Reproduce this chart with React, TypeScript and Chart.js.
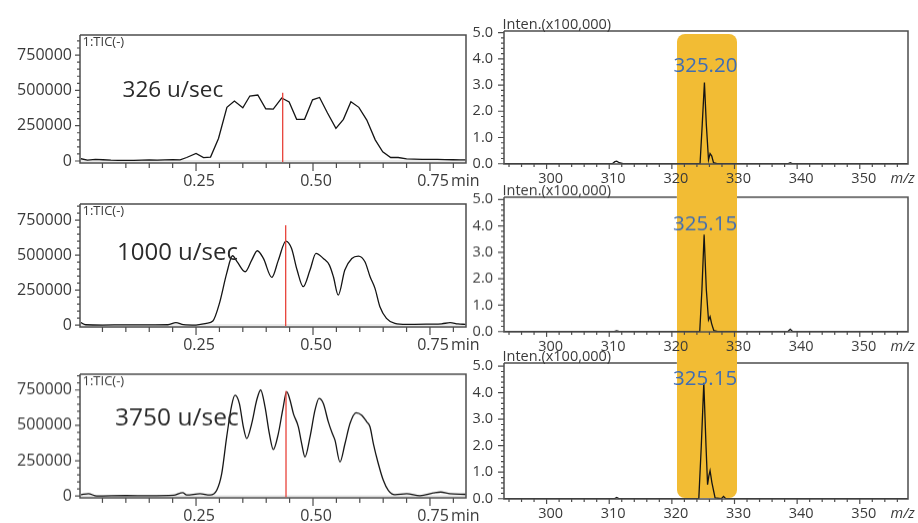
import React, { useEffect, useRef } from 'react';
import { Chart, registerables } from 'chart.js';

Chart.register(...registerables);

const FONT = '"Open Sans", "Noto Sans", "DejaVu Sans", sans-serif';
const TEXT = '#3a3a3a';
const AXIS = '#4d4d4d';
const LINE = '#151515';
const BAND = '#F2BC34';
const PEAK_BLUE = '#3F6DB4';
const MARKER_RED = '#E8433A';

// ---------------- chromatogram (TIC) data ----------------
const traceName = '1:TIC(-)';
const scanRates = ['326 u/sec', '1000 u/sec', '3750 u/sec'];
const rateLabelTime = [0.093, 0.081, 0.077];
const rateLabelLevel = [455000, 464000, 500000];
const rateLabelSize = [22.5, 24, 24.5];

const timeMajor = [0.25, 0.5, 0.75];
const timeLabels = ['0.25', '0.50', '0.75'];
const timeMinor = [0.05, 0.1, 0.15, 0.2, 0.3, 0.35, 0.4, 0.45, 0.55, 0.6, 0.65, 0.7, 0.8];
const timeUnit = 'min';
const ticMajor = [0, 250000, 500000, 750000];
const ticLabels = ['0', '250000', '500000', '750000'];
const ticMinor = [50000, 100000, 150000, 200000, 300000, 350000, 400000, 450000, 550000, 600000, 650000, 700000, 800000, 850000];
const timeRange = [0.002, 0.827];
const ticMax = [892000, 865000, 862000];
const ticMin = [-14000, -14000, -13000];

const ticTimeA = [0.004, 0.018, 0.035, 0.051, 0.068, 0.084, 0.101, 0.117, 0.134, 0.150, 0.167, 0.183, 0.200, 0.216, 0.230, 0.250, 0.266, 0.281, 0.298, 0.316, 0.332, 0.350, 0.365, 0.382, 0.399, 0.415, 0.433, 0.449, 0.465, 0.482, 0.499, 0.514, 0.531, 0.549, 0.565, 0.581, 0.598, 0.615, 0.633, 0.649, 0.666, 0.682, 0.700, 0.716, 0.733, 0.749, 0.766, 0.782, 0.799, 0.815, 0.826];
const ticValA = [16000, 7000, 11000, 9000, 6000, 5000, 5000, 5000, 6000, 8000, 7000, 8000, 10000, 8000, 25000, 54000, 24000, 28000, 160000, 380000, 425000, 377000, 460000, 467000, 370000, 368000, 446000, 418000, 295000, 295000, 433000, 450000, 340000, 231000, 295000, 420000, 380000, 290000, 150000, 65000, 25000, 25000, 15000, 13000, 12000, 12000, 11000, 10000, 9000, 8000, 8000];

const ticTimeB = [0.004, 0.014, 0.05, 0.1, 0.15, 0.19, 0.207, 0.223, 0.25, 0.272, 0.286, 0.3, 0.3155, 0.328, 0.338, 0.355, 0.369, 0.381, 0.394, 0.412, 0.426, 0.442, 0.454, 0.466, 0.479, 0.4936, 0.5064, 0.522, 0.535, 0.5436, 0.554, 0.568, 0.583, 0.597, 0.611, 0.622, 0.6325, 0.643, 0.657, 0.675, 0.7, 0.75, 0.775, 0.793, 0.81, 0.826];
const ticValB = [17000, 2000, 0, 1000, 1000, 2000, 17000, 3000, 0, 12000, 29000, 155000, 369000, 495000, 452000, 381000, 464000, 531000, 476000, 340000, 464000, 600000, 548000, 393000, 274000, 393000, 512000, 476000, 428000, 345000, 214000, 393000, 476000, 493000, 452000, 345000, 262000, 131000, 48000, 12000, 5000, 7000, 9000, 17000, 8000, 5000];

const ticTimeC = [0.0043, 0.0199, 0.0378, 0.1, 0.15, 0.2015, 0.2216, 0.2301, 0.2585, 0.2799, 0.2942, 0.3049, 0.3155, 0.3262, 0.3333, 0.3426, 0.3511, 0.3583, 0.369, 0.3797, 0.3882, 0.3974, 0.4067, 0.4152, 0.4259, 0.4352, 0.4437, 0.4509, 0.458, 0.4687, 0.4758, 0.4829, 0.4936, 0.5043, 0.5128, 0.522, 0.5327, 0.5413, 0.547, 0.5577, 0.5684, 0.5791, 0.5919, 0.604, 0.6147, 0.6218, 0.629, 0.6396, 0.6503, 0.661, 0.6752, 0.7002, 0.7286, 0.7571, 0.7728, 0.7927, 0.8263];
const ticValC = [9500, 16500, 0, 3000, 2000, 5000, 24000, 7000, 16500, 7000, 40000, 158000, 418000, 643000, 714000, 655000, 490000, 407000, 513000, 679000, 750000, 631000, 442000, 329000, 442000, 608000, 738000, 679000, 584000, 490000, 371000, 277000, 418000, 608000, 690000, 655000, 525000, 442000, 395000, 241000, 371000, 513000, 589000, 572000, 525000, 490000, 371000, 229000, 111000, 40000, 9500, 16500, 2400, 21000, 28000, 16500, 12000];

const markerTime = [0.4352, 0.4416, 0.4423];
const markerTop = [484000, 714000, 742000];

// ---------------- mass spectrum data ----------------
const intenTitle = 'Inten.(x100,000)';
const mzUnit = 'm/z';
const mzMajor = [300, 310, 320, 330, 340, 350];
const mzLabels = ['300', '310', '320', '330', '340', '350'];
const mzMinor = [294, 296, 298, 302, 304, 306, 308, 312, 314, 316, 318, 322, 324, 326, 328, 332, 334, 336, 338, 342, 344, 346, 348, 352, 354, 356];
const intenMajor = [0, 1, 2, 3, 4, 5];
const intenLabels = ['0.0', '1.0', '2.0', '3.0', '4.0', '5.0'];
const intenMinor = [0.2, 0.4, 0.6, 0.8, 1.2, 1.4, 1.6, 1.8, 2.2, 2.4, 2.6, 2.8, 3.2, 3.4, 3.6, 3.8, 4.2, 4.4, 4.6, 4.8];
const mzRange = [293.2, 357.7];
const intenMax = [5.06, 5.09, 5.12];

const specMzA = [293.2, 310.5, 310.9, 311.2, 311.6, 312.2, 324.5, 324.85, 325.2, 325.5, 325.85, 326.1, 326.37, 326.65, 327.2, 338.5, 338.9, 339.3, 357.7];
const specIntA = [0, 0, 0.08, 0.1, 0.04, 0, 0, 1.5, 3.1, 1.5, 0.15, 0.39, 0.29, 0.04, 0, 0, 0.04, 0, 0];
const specMzB = [293.2, 310.8, 311.2, 311.6, 324.45, 324.8, 325.15, 325.5, 325.85, 326.1, 326.35, 326.7, 327.3, 338.5, 338.9, 339.3, 357.7];
const specIntB = [0, 0, 0.03, 0, 0, 1.6, 3.67, 1.6, 0.44, 0.57, 0.3, 0.04, 0, 0, 0.09, 0, 0];
const specMzC = [293.2, 310.8, 311.2, 311.6, 324.3, 324.7, 325.1, 325.45, 325.7, 325.9, 326.1, 326.4, 326.9, 327.9, 328.25, 328.6, 357.7];
const specIntC = [0, 0, 0.05, 0, 0, 2.0, 4.37, 2.0, 0.53, 0.85, 1.06, 0.6, 0.03, 0, 0.09, 0, 0];

const peakLabels = ['325.20', '325.15', '325.15'];
const peakMz = [325.2, 325.15, 325.15];
const peakLabelLevel = [3.5, 3.84, 4.28];

const bandMz = [320.8, 330.4];
const bandTopLevel = 4.96; // on first spectrum
const bandBottomLevel = 0.02; // on last spectrum

// ---------------- layout (pixels) ----------------
const PAD_TOP = 30;
const AXIS_H = 30;
type Panel = { cl: number; ct: number; w: number; pl: number; pt: number; pr: number; pb: number };
const leftPanels: Panel[] = [
  { cl: 0, ct: 5, w: 490, pl: 80, pt: 35, pr: 466, pb: 163 },
  { cl: 0, ct: 174, w: 490, pl: 80, pt: 204, pr: 466, pb: 327 },
  { cl: 0, ct: 344, w: 490, pl: 80, pt: 374, pr: 466, pb: 497.5 },
];
const rightPanels: Panel[] = [
  { cl: 460, ct: 1, w: 458, pl: 504, pt: 31, pr: 908, pb: 164.3 },
  { cl: 460, ct: 167, w: 458, pl: 504, pt: 197, pr: 908, pb: 331.7 },
  { cl: 460, ct: 333, w: 458, pl: 504, pt: 363, pr: 908, pb: 499 },
];
const panelH = (p: Panel) => p.pb - p.pt + PAD_TOP + AXIS_H;

type Deco = {
  xMajor: number[]; xMinor: number[]; yMajor: number[]; yMinor: number[];
  xMaj: number; xMin: number; yMaj: number; yMin: number;
  topGap?: number[]; zeroLine?: boolean;
  extra?: (chart: any) => void;
};

function decoPlugin(cfg: Deco) {
  return {
    id: 'panelDeco',
    beforeDatasetsDraw(chart: any) {
      if (!cfg.zeroLine) return;
      const { ctx, chartArea: a, scales } = chart;
      const y0 = scales.y.getPixelForValue(0);
      ctx.save();
      ctx.strokeStyle = '#d2d2d2';
      ctx.lineWidth = 1;
      ctx.beginPath();
      ctx.moveTo(a.left, y0);
      ctx.lineTo(a.right, y0);
      ctx.stroke();
      ctx.restore();
    },
    afterDatasetsDraw(chart: any) {
      const { ctx, chartArea: a, scales } = chart;
      const x = scales.x;
      const y = scales.y;
      ctx.save();
      ctx.strokeStyle = AXIS;
      ctx.lineWidth = 1.5;
      ctx.beginPath();
      ctx.moveTo(a.left, a.top);
      ctx.lineTo(a.left, a.bottom);
      ctx.lineTo(a.right, a.bottom);
      ctx.lineTo(a.right, a.top);
      if (cfg.topGap) {
        const g0 = x.getPixelForValue(cfg.topGap[0]);
        const g1 = x.getPixelForValue(cfg.topGap[1]);
        ctx.lineTo(g1, a.top);
        ctx.moveTo(g0, a.top);
        ctx.lineTo(a.left, a.top);
      } else {
        ctx.lineTo(a.left, a.top);
      }
      ctx.stroke();
      ctx.lineWidth = 1.2;
      ctx.beginPath();
      const xt = (vals: number[], len: number) => vals.forEach((v) => {
        const p = x.getPixelForValue(v);
        ctx.moveTo(p, a.bottom);
        ctx.lineTo(p, a.bottom + len);
      });
      const yt = (vals: number[], len: number) => vals.forEach((v) => {
        const p = y.getPixelForValue(v);
        ctx.moveTo(a.left, p);
        ctx.lineTo(a.left - len, p);
      });
      xt(cfg.xMajor, cfg.xMaj);
      xt(cfg.xMinor, cfg.xMin);
      yt(cfg.yMajor, cfg.yMaj);
      yt(cfg.yMinor, cfg.yMin);
      ctx.stroke();
      if (cfg.extra) cfg.extra(chart);
      ctx.restore();
    },
  };
}

function axisOpts(major: number[], minor: number[], labels: string[], size: number, extra: any) {
  const all = [...major, ...minor].sort((a, b) => a - b);
  return {
    type: 'linear',
    grid: { display: false, drawTicks: false },
    border: { display: false },
    afterBuildTicks: (s: any) => { s.ticks = all.map((v) => ({ value: v })); },
    ticks: {
      autoSkip: false,
      maxRotation: 0,
      minRotation: 0,
      color: TEXT,
      font: { family: FONT, size },
      callback: (v: number) => {
        const i = major.indexOf(v);
        return i >= 0 ? labels[i] : '';
      },
      ...extra.ticks,
    },
    ...extra.rest,
  };
}

function makeChart(canvas: HTMLCanvasElement, p: Panel, xs: number[], ys: number[], smooth: boolean,
  xCfg: any, yCfg: any, deco: Deco) {
  return new Chart(canvas, {
    type: 'line',
    data: {
      datasets: [{
        data: xs.map((v, i) => ({ x: v, y: ys[i] })),
        borderColor: LINE,
        borderWidth: 1.3,
        pointRadius: 0,
        fill: false,
        tension: smooth ? 0.4 : 0,
        cubicInterpolationMode: smooth ? 'monotone' : 'default',
      }],
    },
    options: {
      responsive: false,
      animation: false,
      events: [],
      layout: { padding: { top: PAD_TOP, right: p.cl + p.w - p.pr, left: 0, bottom: 0 } },
      plugins: { legend: { display: false }, tooltip: { enabled: false } },
      scales: {
        x: { ...xCfg, afterFit: (s: any) => { s.height = AXIS_H; } },
        y: { ...yCfg, afterFit: (s: any) => { s.width = p.pl - p.cl; } },
      },
    } as any,
    plugins: [decoPlugin(deco) as any],
  });
}

export default function App() {
  const lRefs = [useRef<HTMLCanvasElement>(null), useRef<HTMLCanvasElement>(null), useRef<HTMLCanvasElement>(null)];
  const rRefs = [useRef<HTMLCanvasElement>(null), useRef<HTMLCanvasElement>(null), useRef<HTMLCanvasElement>(null)];
  const bandRef = useRef<HTMLDivElement>(null);

  useEffect(() => {
    const charts: Chart[] = [];
    const ticT = [ticTimeA, ticTimeB, ticTimeC];
    const ticV = [ticValA, ticValB, ticValC];
    const specX = [specMzA, specMzB, specMzC];
    const specY = [specIntA, specIntB, specIntC];

    for (let i = 0; i < 3; i++) {
      const p = leftPanels[i];
      const xCfg = axisOpts(timeMajor, timeMinor, timeLabels, 16, {
        ticks: { padding: 8.5, labelOffset: 3 },
        rest: { min: timeRange[0], max: timeRange[1] },
      });
      const yCfg = axisOpts(ticMajor, ticMinor, ticLabels, 16, {
        ticks: { padding: 8 },
        rest: { min: ticMin[i], max: ticMax[i] },
      });
      const idx = i;
      charts.push(makeChart(lRefs[i].current!, p, ticT[i], ticV[i], i > 0, xCfg, yCfg, {
        xMajor: timeMajor, xMinor: timeMinor, yMajor: ticMajor, yMinor: ticMinor,
        xMaj: 8, xMin: 5, yMaj: 5, yMin: 3, zeroLine: true,
        extra: (chart: any) => {
          const { ctx, chartArea: a, scales: { x, y } } = chart;
          // retention-time marker
          const mx = x.getPixelForValue(markerTime[idx]);
          ctx.strokeStyle = MARKER_RED;
          ctx.lineWidth = 1.3;
          ctx.beginPath();
          ctx.moveTo(mx, y.getPixelForValue(0) + 1);
          ctx.lineTo(mx, y.getPixelForValue(markerTop[idx]));
          ctx.stroke();
          ctx.fillStyle = TEXT;
          ctx.textAlign = 'left';
          ctx.textBaseline = 'alphabetic';
          ctx.font = `13px ${FONT}`;
          ctx.fillText(traceName, a.left + 2.5, a.top + 11);
          ctx.fillStyle = '#2b2b2b';
          ctx.font = `${rateLabelSize[idx]}px ${FONT}`;
          ctx.fillText(scanRates[idx], x.getPixelForValue(rateLabelTime[idx]), y.getPixelForValue(rateLabelLevel[idx]));
          ctx.fillStyle = TEXT;
          ctx.font = `16px ${FONT}`;
          ctx.textBaseline = 'middle';
          ctx.fillText(timeUnit, x.getPixelForValue(timeMajor[2]) + 21, a.bottom + 18.2);
        },
      }));
    }

    for (let i = 0; i < 3; i++) {
      const p = rightPanels[i];
      const xCfg = axisOpts(mzMajor, mzMinor, mzLabels, 14.5, {
        ticks: { padding: 6, labelOffset: 4 },
        rest: { min: mzRange[0], max: mzRange[1] },
      });
      const yCfg = axisOpts(intenMajor, intenMinor, intenLabels, 14.5, {
        ticks: { padding: 11 },
        rest: { min: -0.01, max: intenMax[i] },
      });
      const idx = i;
      charts.push(makeChart(rRefs[i].current!, p, specX[i], specY[i], false, xCfg, yCfg, {
        xMajor: mzMajor, xMinor: mzMinor, yMajor: intenMajor, yMinor: intenMinor,
        xMaj: 5, xMin: 3, yMaj: 6, yMin: 3,
        topGap: i > 0 ? bandMz : undefined,
        extra: (chart: any) => {
          const { ctx, chartArea: a, scales: { x, y } } = chart;
          ctx.fillStyle = TEXT;
          ctx.textAlign = 'left';
          ctx.textBaseline = 'alphabetic';
          ctx.font = `14.5px ${FONT}`;
          ctx.fillText(intenTitle, a.left - 1.5, a.top - 2.5);
          ctx.font = `italic 14.5px ${FONT}`;
          ctx.textBaseline = 'middle';
          ctx.fillText(mzUnit, a.right - 17.5, a.bottom + 14.7);
          ctx.fillStyle = PEAK_BLUE;
          ctx.textAlign = 'center';
          ctx.textBaseline = 'alphabetic';
          ctx.font = `20.5px ${FONT}`;
          ctx.fillText(peakLabels[idx], x.getPixelForValue(peakMz[idx]) + 1, y.getPixelForValue(peakLabelLevel[idx]));
        },
      }));
    }

    // highlight band spanning the three spectra, placed through the spectrum scales
    const top = charts[3];
    const bottom = charts[5];
    const band = bandRef.current!;
    const bx0 = rightPanels[0].cl + top.scales.x.getPixelForValue(bandMz[0]);
    const bx1 = rightPanels[0].cl + top.scales.x.getPixelForValue(bandMz[1]);
    const by0 = rightPanels[0].ct + top.scales.y.getPixelForValue(bandTopLevel);
    const by1 = rightPanels[2].ct + bottom.scales.y.getPixelForValue(bandBottomLevel);
    band.style.left = `${bx0}px`;
    band.style.width = `${bx1 - bx0}px`;
    band.style.top = `${by0}px`;
    band.style.height = `${by1 - by0}px`;

    return () => charts.forEach((c) => c.destroy());
  }, []);

  const canvasStyle = (p: Panel): React.CSSProperties => ({
    position: 'absolute', left: p.cl, top: p.ct, width: p.w, height: panelH(p),
  });

  return (
    <div style={{ position: 'fixed', left: 0, top: 0, width: 918, height: 523, background: '#fff', overflow: 'hidden' }}>
      <div ref={bandRef} style={{ position: 'absolute', background: BAND, borderRadius: 8 }} />
      {leftPanels.map((p, i) => (
        <canvas key={`l${i}`} ref={lRefs[i]} width={p.w} height={panelH(p)} style={canvasStyle(p)} />
      ))}
      {rightPanels.map((p, i) => (
        <canvas key={`r${i}`} ref={rRefs[i]} width={p.w} height={panelH(p)} style={canvasStyle(p)} />
      ))}
    </div>
  );
}
